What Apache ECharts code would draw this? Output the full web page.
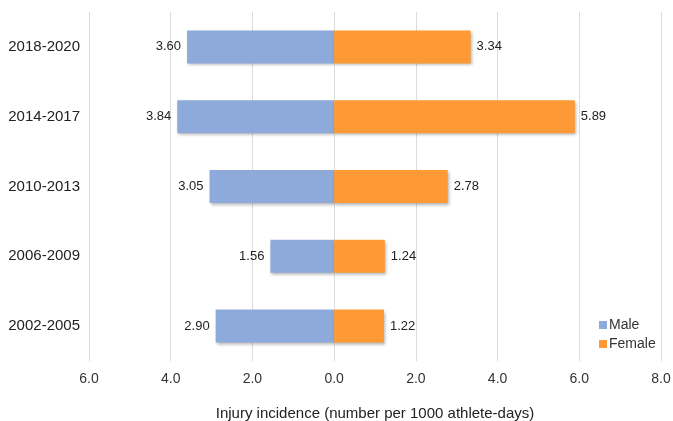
<!DOCTYPE html>
<html>
<head>
<meta charset="utf-8">
<script src="https://cdn.jsdelivr.net/npm/echarts@6/dist/echarts.min.js"></script>
<style>
  html, body { margin: 0; padding: 0; background: #fff; }
  #chart { width: 673px; height: 421px; }
</style>
</head>
<body>
<div id="chart"></div>
<script>
// Injury incidence per 1000 athlete-days, by period and sex
const periods = ['2018-2020', '2014-2017', '2010-2013', '2006-2009', '2002-2005'];
const male = [3.60, 3.84, 3.05, 1.56, 2.90];
const female = [3.34, 5.89, 2.78, 1.24, 1.22];
const xMin = -6, xMax = 8, xStep = 2;

const font = 'Liberation Sans, Arial, sans-serif';
const shadow = {
  shadowBlur: 3,
  shadowOffsetX: 1,
  shadowOffsetY: 2,
  shadowColor: 'rgba(0,0,0,0.3)'
};

const chart = echarts.init(document.getElementById('chart'));
chart.setOption({
  animation: false,
  textStyle: { fontFamily: font },
  grid: { left: 89, right: 12, top: 12, bottom: 60, containLabel: false, outerBoundsMode: 'none' },
  legend: {
    orient: 'vertical',
    left: 594,
    top: 313,
    itemWidth: 8,
    itemHeight: 8,
    itemGap: 5,
    icon: 'rect',
    textStyle: { fontSize: 14, color: '#333', fontFamily: font, padding: [0, 0, 0, -3] },
    data: ['Male', 'Female']
  },
  xAxis: {
    type: 'value',
    min: xMin,
    max: xMax,
    interval: xStep,
    name: 'Injury incidence (number per 1000 athlete-days)',
    nameLocation: 'middle',
    nameGap: 45,
    nameTextStyle: { fontSize: 15, color: '#222', fontFamily: font },
    axisLine: { show: false },
    axisTick: { show: false },
    axisLabel: {
      fontSize: 14,
      color: '#333',
      margin: 11,
      formatter: v => Math.abs(v).toFixed(1)
    },
    splitLine: { show: true, lineStyle: { color: '#dcdcdc', width: 1 } }
  },
  yAxis: {
    type: 'category',
    data: periods,
    inverse: true,
    axisLine: { show: false },
    axisTick: { show: false },
    axisLabel: {
      fontSize: 15,
      color: '#222',
      margin: 9
    }
  },
  series: [
    {
      name: 'Male',
      type: 'bar',
      stack: 'sex',
      barWidth: 33,
      data: male.map(v => -v),
      itemStyle: Object.assign({ color: '#8eaadb' }, shadow),
      label: {
        show: true,
        position: 'left',
        distance: 6,
        fontSize: 13,
        color: '#222',
        formatter: p => Math.abs(p.value).toFixed(2)
      }
    },
    {
      name: 'Female',
      type: 'bar',
      stack: 'sex',
      barWidth: 33,
      data: female,
      itemStyle: Object.assign({ color: '#fd9a35' }, shadow),
      label: {
        show: true,
        position: 'right',
        distance: 6,
        fontSize: 13,
        color: '#222',
        formatter: p => p.value.toFixed(2)
      }
    }
  ]
});
</script>
</body>
</html>
